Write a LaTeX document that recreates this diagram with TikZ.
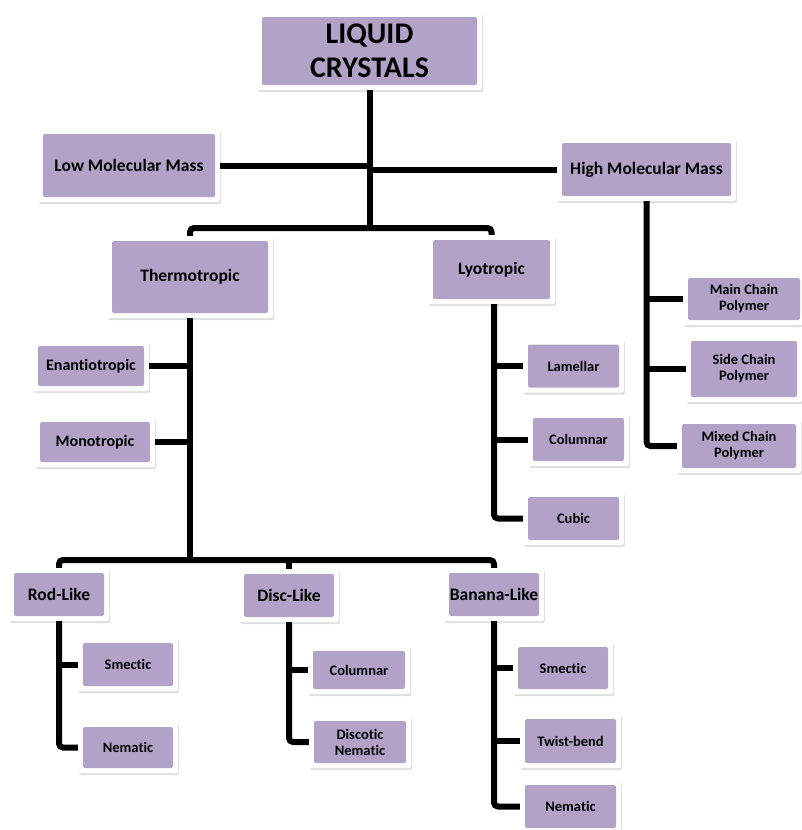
\documentclass[tikz,border=0pt]{standalone}
\usepackage{fontspec}
\setmainfont{Carlito}[Ligatures=NoCommon]
\usepackage{xcolor}
\usetikzlibrary{positioning,shadows}
\definecolor{lcpurple}{HTML}{B3A2C7}

\begin{document}
\begin{tikzpicture}[x=1pt,y=-1pt,
    purplenode/.style={rectangle, rounded corners=2pt, fill=white, inner sep=0pt, align=center,
        minimum width=100pt, minimum height=53pt,
        drop shadow={shadow xshift=1pt, shadow yshift=-2pt, opacity=0.25},
        path picture={\fill[lcpurple] ([shift={(5pt,-5pt)}]path picture bounding box.north west)
            rectangle ([shift={(-5pt,5pt)}]path picture bounding box.south east);}},
    topnode/.style={purplenode, font=\bfseries\fontsize{30}{34}\selectfont},
    midnode/.style={purplenode, font=\bfseries\fontsize{17.5}{20}\selectfont},
    sidenode/.style={purplenode, font=\bfseries\fontsize{16}{18}\selectfont},
    smallnode/.style={purplenode, font=\bfseries\fontsize{14.5}{16}\selectfont},
    link/.style={draw=black, line width=6pt, rounded corners=4pt}]
  \useasboundingbox (0,0) rectangle (801,830);

  \node[topnode, minimum width=225pt, minimum height=78pt]   (lc)     at (369.5,51)  {LIQUID\\CRYSTALS};
  \node[midnode, minimum width=182pt, minimum height=73pt]   (low)    at (129,165.5) {Low Molecular Mass};
  \node[midnode, minimum width=179pt, minimum height=63pt]   (high)   at (646.5,169.5) {High Molecular Mass};
  \node[midnode, minimum width=166pt, minimum height=82pt]   (thermo) at (190,277)   {Thermotropic};
  \node[midnode, minimum width=127pt, minimum height=69pt]   (lyo)    at (491.5,269.5) {Lyotropic};

  \node[sidenode, minimum width=116pt, minimum height=50pt]  (enan)   at (91,366)    {Enantiotropic};
  \node[sidenode, minimum width=120pt, minimum height=50pt]  (mono)   at (95,442)    {Monotropic};

  \node[smallnode, minimum width=101pt]                      (lam)    at (573.5,366) {Lamellar};
  \node[smallnode, minimum width=101pt]                      (lcol)   at (578.5,439.5) {Columnar};
  \node[smallnode, minimum width=101pt]                      (cubic)  at (573.5,518.5) {Cubic};

  \node[smallnode, minimum width=122pt, minimum height=52pt] (mainc)  at (744,299)   {Main Chain\\Polymer};
  \node[smallnode, minimum width=116pt, minimum height=66pt] (side)   at (744,369)   {Side Chain\\Polymer};
  \node[smallnode, minimum width=124pt, minimum height=54pt] (mixed)  at (739,446)   {Mixed Chain\\Polymer};

  \node[midnode]                                             (rod)    at (59,594.5)  {Rod-Like};
  \node[midnode]                                             (disc)   at (289,595.5) {Disc-Like};
  \node[midnode]                                             (banana) at (494,594.5) {Banana-Like};

  \node[smallnode]                                           (rsm)    at (128,664.5) {Smectic};
  \node[smallnode, minimum height=51pt]                      (rnem)   at (128,747.5) {Nematic};
  \node[smallnode, minimum width=102pt, minimum height=48pt] (dcol)   at (359,670)   {Columnar};
  \node[smallnode, minimum width=102pt, minimum height=52pt] (dnem)   at (360,742)   {Discotic\\Nematic};
  \node[smallnode, minimum height=52pt]                      (bsm)    at (563,668)   {Smectic};
  \node[smallnode, minimum width=101pt, minimum height=54pt] (btw)    at (570.5,741) {Twist-bend};
  \node[smallnode, minimum width=101pt]                      (bnem)   at (570.5,806.5) {Nematic};

  \coordinate (topbus) at (369.5,228);
  \coordinate (lowbus) at (190,560);
  \coordinate (lyostem) at (494,304);

  % top level
  \draw[link] (lc.south) -- (topbus);
  \draw[link] (low.east) -- (low.east -| lc.south);
  \draw[link] (high.west) -- (high.west -| lc.south);
  \draw[link] (thermo.north) |- (topbus) -| (lyo.north);

  % thermotropic
  \draw[link] (thermo.south) -- (lowbus);
  \draw[link] (enan.east) -- (enan.east -| thermo.south);
  \draw[link] (mono.east) -- (mono.east -| thermo.south);
  \draw[link] (rod.north) |- (lowbus) -| (banana.north);
  \draw[link] (lowbus -| disc.north) -- (disc.north);

  % lyotropic
  \draw[link] (lyostem) |- (cubic.west);
  \draw[link] (lyostem |- lam.west) -- (lam.west);
  \draw[link] (lyostem |- lcol.west) -- (lcol.west);

  % high molecular mass
  \draw[link] (high.south) |- (mixed.west);
  \draw[link] (high.south |- mainc.west) -- (mainc.west);
  \draw[link] (high.south |- side.west) -- (side.west);

  % rod, disc, banana
  \draw[link] (rod.south) |- (rnem.west);
  \draw[link] (rod.south |- rsm.west) -- (rsm.west);
  \draw[link] (disc.south) |- (dnem.west);
  \draw[link] (disc.south |- dcol.west) -- (dcol.west);
  \draw[link] (banana.south) |- (bnem.west);
  \draw[link] (banana.south |- bsm.west) -- (bsm.west);
  \draw[link] (banana.south |- btw.west) -- (btw.west);
\end{tikzpicture}
\end{document}
